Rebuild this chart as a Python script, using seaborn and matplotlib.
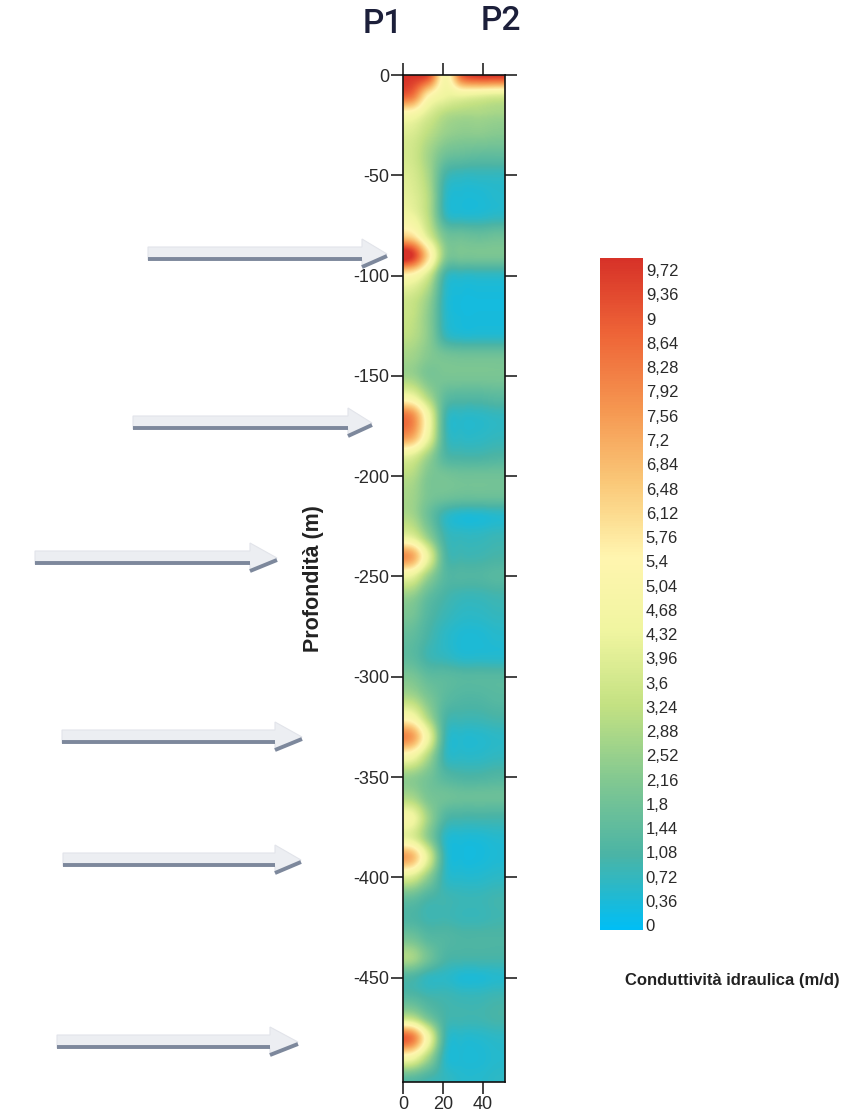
import numpy as np
import pandas as pd
import matplotlib
matplotlib.use("Agg")
import matplotlib.pyplot as plt
from matplotlib.patches import Polygon
from matplotlib.lines import Line2D
import seaborn as sns

# ---------------- data ----------------
depths = [0, -10, -20, -30, -40, -50, -60, -70, -80, -90,
          -100, -110, -120, -130, -140, -150, -160, -170, -180, -190,
          -200, -210, -220, -230, -240, -250, -260, -270, -280, -290,
          -300, -310, -320, -330, -340, -350, -360, -370, -380, -390,
          -400, -410, -420, -430, -440, -450, -460, -470, -480, -490, -500]
x_positions = [4.25, 12.75, 21.25, 29.75, 38.25, 46.75]

# hydraulic conductivity (m/d) along vertical profiles at each x position
k_x04 = [9.9, 8.6, 4.8, 3.8, 3.6, 3.8, 4.0, 4.4, 6.0, 9.9,
         5.2, 3.6, 3.3, 3.1, 2.7, 2.6, 4.4, 8.0, 7.4, 4.0,
         3.0, 2.7, 2.8, 4.0, 7.4, 4.2, 2.4, 1.9, 1.5, 1.4,
         2.0, 2.8, 4.8, 7.6, 4.6, 2.4, 2.8, 4.6, 4.0, 7.0,
         3.8, 1.6, 1.1, 1.8, 2.8, 1.1, 1.3, 3.2, 8.4, 4.6, 1.4]
k_x13 = [9.4, 5.6, 3.8, 3.1, 2.7, 2.8, 3.0, 3.1, 3.8, 6.0,
         3.6, 2.6, 2.3, 2.3, 2.2, 2.0, 2.8, 4.6, 4.4, 2.6,
         2.1, 2.0, 1.7, 2.4, 4.2, 2.5, 1.5, 1.2, 1.0, 0.9,
         1.5, 2.0, 2.8, 4.4, 2.8, 1.9, 2.0, 2.6, 2.3, 3.9,
         2.3, 1.1, 0.9, 1.3, 1.8, 0.7, 1.0, 1.9, 4.6, 2.7, 1.0]
k_x21 = [5.0, 4.4, 3.0, 2.5, 1.8, 1.0, 0.7, 0.8, 1.9, 2.3,
         0.9, 0.6, 0.6, 0.8, 1.9, 2.0, 1.5, 1.0, 1.0, 1.2,
         1.9, 1.8, 0.7, 0.9, 1.2, 1.3, 1.0, 0.8, 0.6, 0.7,
         1.4, 1.4, 1.1, 0.9, 0.8, 1.3, 1.8, 1.2, 0.6, 0.7,
         0.7, 0.9, 0.9, 1.2, 1.1, 0.6, 0.9, 1.0, 0.9, 0.6, 0.7]
k_x30 = [9.0, 4.4, 2.8, 2.3, 1.6, 0.7, 0.4, 0.5, 1.7, 2.0,
         0.6, 0.3, 0.3, 0.5, 1.8, 2.0, 1.3, 0.6, 0.6, 1.0,
         1.8, 1.7, 0.4, 0.7, 0.9, 1.2, 0.8, 0.6, 0.4, 0.5,
         1.3, 1.2, 0.9, 0.5, 0.6, 1.1, 1.7, 1.0, 0.4, 0.3,
         0.5, 0.8, 0.8, 1.1, 1.0, 0.4, 0.8, 0.9, 0.5, 0.4, 0.5]
k_x38 = [9.9, 4.2, 2.8, 2.3, 1.5, 0.7, 0.4, 0.5, 1.6, 2.0,
         0.6, 0.3, 0.3, 0.5, 1.8, 2.0, 1.3, 0.6, 0.6, 1.0,
         1.8, 1.7, 0.4, 0.7, 0.9, 1.2, 0.8, 0.6, 0.4, 0.5,
         1.3, 1.2, 0.9, 0.5, 0.6, 1.1, 1.7, 1.0, 0.4, 0.3,
         0.5, 0.8, 0.8, 1.1, 1.0, 0.4, 0.8, 0.9, 0.5, 0.4, 0.5]
k_x47 = [9.9, 4.0, 2.7, 2.2, 1.5, 0.7, 0.5, 0.6, 1.7, 2.0,
         0.6, 0.3, 0.3, 0.5, 1.8, 2.0, 1.4, 0.7, 0.7, 1.1,
         1.8, 1.7, 0.5, 0.8, 1.0, 1.3, 0.9, 0.7, 0.5, 0.5,
         1.3, 1.3, 1.0, 0.6, 0.7, 1.2, 1.7, 1.0, 0.5, 0.4,
         0.6, 0.9, 0.9, 1.1, 1.0, 0.5, 0.9, 1.0, 0.6, 0.5, 0.6]

y_ticks = [0, -50, -100, -150, -200, -250, -300, -350, -400, -450]
x_ticks = [0, 20, 40]
cbar_labels = ["0", "0,36", "0,72", "1,08", "1,44", "1,8", "2,16", "2,52",
               "2,88", "3,24", "3,6", "3,96", "4,32", "4,68", "5,04", "5,4",
               "5,76", "6,12", "6,48", "6,84", "7,2", "7,56", "7,92", "8,28",
               "8,64", "9", "9,36", "9,72"]
profile_labels = ["P1", "P2"]
ylabel_text = "Profondità (m)"
cbar_title = "Conduttività idraulica (m/d)"

# ---------------- style ----------------
sns.set_style("ticks")
plt.rcParams['font.family'] = ['Liberation Sans', 'DejaVu Sans']
plt.rcParams['axes.unicode_minus'] = False

cmap = sns.blend_palette(["#00BEF5", "#4BB4A5", "#82C891", "#C3E182", "#F0F5A0",
                          "#FFF5AF", "#FAC878", "#F59650", "#EE6437", "#D73228"],
                         as_cmap=True)

W, H = 867, 1118
fig = plt.figure(figsize=(W / 100, H / 100), dpi=100)
fig.patch.set_facecolor("white")

def fx(px):
    return px / W

def fy(py):
    return 1 - py / H

ax = fig.add_axes([fx(403), fy(1082), fx(505) - fx(403), fy(75) - fy(1082)])

grid = pd.DataFrame({"x04": k_x04, "x13": k_x13, "x21": k_x21,
                     "x30": k_x30, "x38": k_x38, "x47": k_x47}, index=depths)
dx = x_positions[1] - x_positions[0]
dz = depths[0] - depths[1]
im = ax.imshow(grid.values, cmap=cmap, vmin=-0.07, vmax=9.9, aspect="auto",
               interpolation="catrom", interpolation_stage="data",
               extent=(x_positions[0] - dx / 2, x_positions[-1] + dx / 2,
                       depths[-1] - dz / 2, depths[0] + dz / 2))
ax.set_xlim(0, 51)
ax.set_ylim(-502, 0)

ax.set_yticks(y_ticks)
ax.set_yticklabels([str(v) for v in y_ticks])
ax.set_xticks(x_ticks)
ax.set_xticklabels([str(v) for v in x_ticks])
ax.tick_params(axis="both", direction="out", length=8.5, width=1.1, color="#111111",
               labelsize=13, labelcolor="#2a2a2a", pad=1.5,
               top=True, right=True, labeltop=False, labelright=False)
for s in ax.spines.values():
    s.set_linewidth(1.2)
    s.set_color("#111111")

ax.set_ylabel(ylabel_text, fontsize=15.5, fontweight="bold", color="#222222", va="center")
ax.yaxis.set_label_coords((313 - 403) / 102, 0.5)

# profile labels
fig.text(fx(383), fy(24), profile_labels[0], fontsize=24, color="#1c1f3a",
         ha="center", va="center", family=["Roboto", "Liberation Sans"], fontweight="medium")
fig.text(fx(501), fy(21), profile_labels[1], fontsize=24, color="#1c1f3a",
         ha="center", va="center", family=["Roboto", "Liberation Sans"], fontweight="medium")

# colorbar
cax = fig.add_axes([fx(600), fy(930), fx(643) - fx(600), fy(258) - fy(930)])
cb_vals = [float(s.replace(",", ".")) for s in cbar_labels]
cb = fig.colorbar(im, cax=cax, ticks=cb_vals)
cb.ax.set_yticklabels(cbar_labels)
cb.ax.tick_params(length=0, labelsize=12, labelcolor="#2a2a2a", pad=2)
cb.outline.set_visible(False)
fig.text(fx(732), fy(980), cbar_title, fontsize=12, fontweight="bold",
         color="#222222", ha="center", va="center")

# arrows (annotation)
arrows = [(259, 148, 362, 387), (428, 133, 348, 372), (563, 35, 250, 277),
          (742, 62, 275, 302), (865, 63, 275, 301), (1047, 57, 270, 298)]
for (y, x0, x1, tip) in arrows:
    band = Polygon([(fx(x0), fy(y - 12)), (fx(x1), fy(y - 12)), (fx(x1), fy(y - 20)),
                    (fx(tip), fy(y - 5)), (fx(x1), fy(y + 8)), (fx(x1), fy(y + 1)),
                    (fx(x0), fy(y + 1))],
                   closed=True, transform=fig.transFigure, facecolor="#eceef2",
                   edgecolor="#e2e4ea", lw=0.8, zorder=5)
    fig.add_artist(band)
    fig.add_artist(Line2D([fx(x0), fx(x1)], [fy(y), fy(y)], transform=fig.transFigure,
                          color="#7d889c", lw=2.8, solid_capstyle="butt", zorder=6))
    fig.add_artist(Line2D([fx(x1), fx(tip)], [fy(y + 8), fy(y - 3)],
                          transform=fig.transFigure, color="#7d889c", lw=2.8,
                          solid_capstyle="butt", zorder=6))

fig.savefig("out.png", dpi=100)
